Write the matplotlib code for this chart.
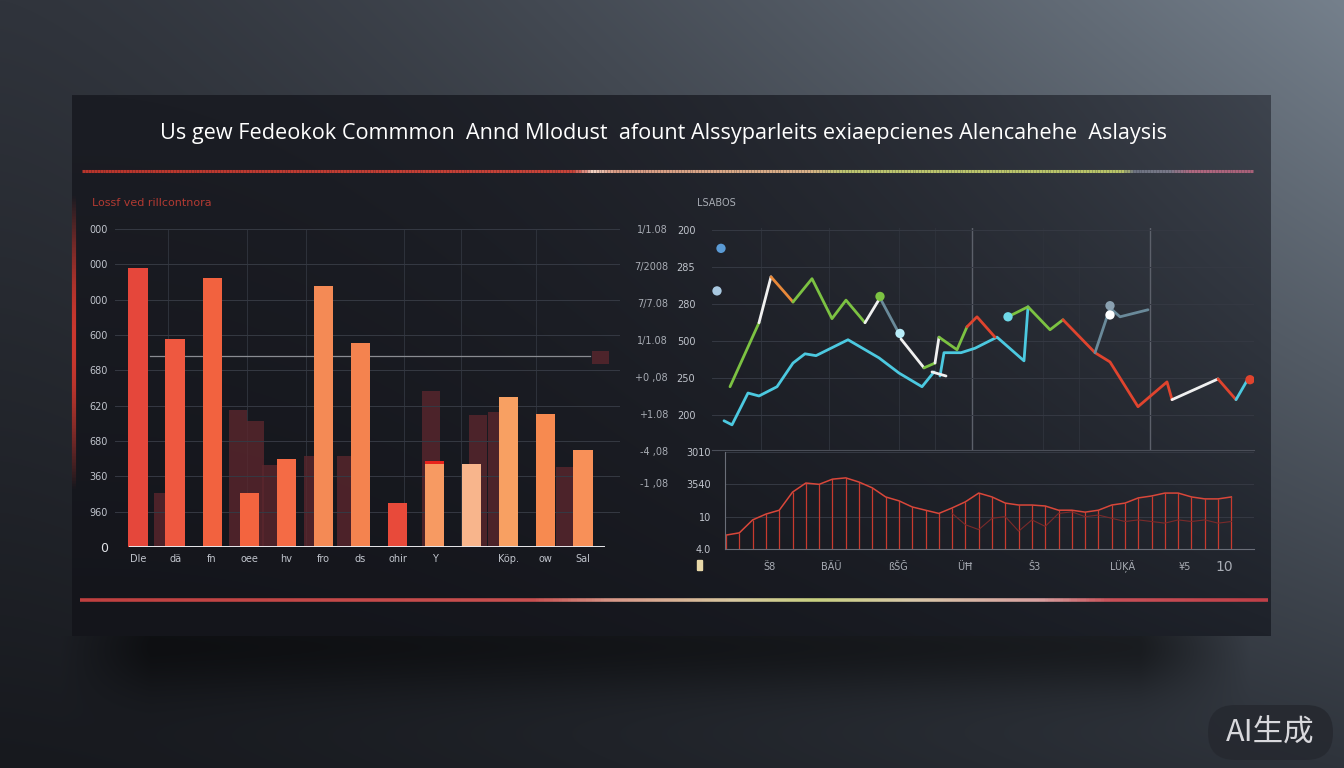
import numpy as np
import matplotlib.pyplot as plt
from matplotlib.collections import LineCollection
from matplotlib.colors import LinearSegmentedColormap, to_rgb
from matplotlib.patches import FancyBboxPatch

W, H = 1344, 768

# ---- left bar chart data ----
bar_labels = ["Dle", "dä", "fn", "oee", "hv", "fro", "ds", "ohir", "Y", "", "Köp.", "ow", "Sal"]
bar_values = [790, 590, 762, 153, 250, 740, 578, 125, 238, 235, 425, 377, 275]
ghost_pos = [0.66, 2.7, 3.17, 3.58, 4.72, 5.62, 7.9, 9.18, 9.68, 11.52]
ghost_values = [153, 388, 357, 232, 258, 258, 442, 374, 382, 226]
target_value = 540
left_ytick_labels = ["0", "960", "360", "680", "620", "680", "600", "000", "000", "000"]

# ---- right upper line chart data ----
cyan_a_x = [1.2, 2.0, 3.6, 4.7, 6.5, 8.1, 9.3, 10.4, 13.6, 16.7, 18.7, 21.0, 22.2]
cyan_a_y = [-0.16, -0.27, 0.59, 0.51, 0.76, 1.4, 1.65, 1.6, 2.03, 1.54, 1.13, 0.76, 1.16]
cyan_b_x = [22.8, 23.2, 24.9, 26.3, 28.5, 31.2, 31.6]
cyan_b_y = [1.05, 1.68, 1.68, 1.8, 2.1, 1.46, 2.92]
green_a_x = [1.8, 4.7]
green_a_y = [0.76, 2.49]
white_a_x = [4.7, 5.9]
white_a_y = [2.49, 3.73]
orange_x = [5.9, 7.3, 8.1]
orange_y = [3.73, 3.3, 3.05]
green_b_x = [8.1, 10.0, 12.0, 13.4, 15.3]
green_b_y = [3.05, 3.68, 2.6, 3.1, 2.49]
white_b_x = [15.3, 16.8]
white_b_y = [2.49, 3.16]
gray_a_x = [16.8, 18.7]
gray_a_y = [3.16, 2.2]
white_c_x = [18.9, 21.2]
white_c_y = [2.05, 1.27]
green_c_x = [21.2, 22.3]
green_c_y = [1.27, 1.4]
white_d_x = [22.3, 22.7]
white_d_y = [1.4, 2.1]
green_d_x = [22.7, 24.5, 25.5]
green_d_y = [2.1, 1.76, 2.38]
red_a_x = [25.5, 26.5, 28.3]
red_a_y = [2.38, 2.65, 2.1]
white_e_x = [22.0, 23.4]
white_e_y = [1.16, 1.05]
green_e_x = [29.6, 31.6, 33.8, 35.1]
green_e_y = [2.65, 2.92, 2.3, 2.57]
red_b_x = [35.1, 38.3, 39.8, 42.6, 45.5, 46.0]
red_b_y = [2.57, 1.68, 1.43, 0.22, 0.89, 0.41]
white_f_x = [46.0, 50.6]
white_f_y = [0.41, 0.97]
red_c_x = [50.6, 52.4]
red_c_y = [0.97, 0.41]
cyan_c_x = [52.4, 53.6]
cyan_c_y = [0.41, 0.97]
gray_b_x = [38.3, 39.8, 40.8, 43.6]
gray_b_y = [1.68, 2.89, 2.65, 2.84]
dot_x = [0.9, 0.5, 18.8, 16.8, 29.6, 39.8, 39.8, 53.8]
dot_y = [4.5, 3.35, 2.2, 3.2, 2.65, 2.95, 2.7, 0.95]
dot_colors = ["#5b9bd5", "#a8c8e0", "#b8ecf8", "#7cc242", "#6fd8e8", "#8aa0b0", "#ffffff", "#e0442e"]
upper_tick_labels = ["200", "250", "500", "280", "285", "200"]
upper_side_labels = ["+1.08", "+0 ,08", "1/1.08", "7/7.08", "7/2008", "1/1.08"]

# ---- right lower stem chart data ----
lower_values = [0.43, 0.50, 0.9, 1.08, 1.2, 1.76, 2.04, 2.0, 2.16, 2.2, 2.07, 1.89, 1.61,
                1.49, 1.3, 1.2, 1.1, 1.27, 1.46, 1.73, 1.61, 1.42, 1.36, 1.36, 1.33, 1.2,
                1.2, 1.14, 1.2, 1.36, 1.42, 1.58, 1.64, 1.73, 1.73, 1.61, 1.55, 1.55, 1.61]
lower_shadow = [1.1, 0.75, 0.6, 0.95, 1.0, 0.55, 0.9, 0.7, 1.1, 1.15, 1.0, 1.05, 0.95,
                0.85, 0.9, 0.85, 0.8, 0.9, 0.85, 0.9, 0.8, 0.85]
lower_tick_labels = ["4.0", "10", "3540", "3010"]
lower_side_labels = ["-1 ,08", "-4 ,08"]
lower_x_labels = ["Ṥ8", "BÄÜ", "ßŠĞ", "ÜĦ", "Ŝ3", "LÜĶÄ", "¥5", "10"]
lower_x_pos = [3.3, 7.9, 12.9, 18.0, 23.2, 29.8, 34.5, 37.5]


def fx(px):
    return px / W


def fy(py):
    return 1 - py / H


def ax_rect(x0, y0, x1, y1):
    return [fx(x0), fy(y1), (x1 - x0) / W, (y1 - y0) / H]


def bilinear(s, t, tl, tr, bl, br):
    tl, tr, bl, br = [np.array(to_rgb(c)) for c in (tl, tr, bl, br)]
    s = s[..., None]
    t = t[..., None]
    return (1 - t) * ((1 - s) * tl + s * tr) + t * ((1 - s) * bl + s * br)


fig = plt.figure(figsize=(W / 100, H / 100), dpi=100)

# background + panel painted as one image
yy, xx = np.mgrid[0:H, 0:W]
img = bilinear((xx / W) ** 1.4, yy / H, "#30343c", "#75808c", "#17191e", "#2e333b")
px0, px1, py0, py1 = 72, 1270, 95, 635
inside = (xx >= px0) & (xx <= px1) & (yy >= py0) & (yy <= py1)
ps = (xx - px0) / (px1 - px0)
pt = (yy - py0) / (py1 - py0)
panel = bilinear(np.clip(ps, 0, 1) ** 2.2, np.clip(pt, 0, 1), "#1b1d24", "#3e444e", "#14151b", "#1e222a")
img[inside] = panel[inside]
# soft shadow under the panel
shadow = np.exp(-((yy - 645) / 50.0) ** 2) * (yy > py1) * np.clip((xx - 60) / 90, 0, 1) * np.clip((1250 - xx) / 110, 0, 1)
img = img * (1 - 0.5 * shadow[..., None])
bg = fig.add_axes([0, 0, 1, 1])
bg.imshow(img, extent=(0, W, H, 0), aspect="auto", interpolation="bilinear")
bg.set_xlim(0, W)
bg.set_ylim(H, 0)
bg.axis("off")


def gradient_line(ax, x0, x1, y, stops, lw):
    xs = np.linspace(x0, x1, 400)
    pts = np.array([xs, np.full_like(xs, y)]).T.reshape(-1, 1, 2)
    segs = np.concatenate([pts[:-1], pts[1:]], axis=1)
    cmap = LinearSegmentedColormap.from_list("g", stops)
    lc = LineCollection(segs, cmap=cmap, linewidths=lw)
    lc.set_array(np.linspace(0, 1, len(segs)))
    ax.add_collection(lc)


gradient_line(bg, 82, 1253, 171, [(0, "#b8352c"), (0.42, "#c8443a"), (0.435, "#f0d0c0"),
                                  (0.455, "#d89a84"), (0.62, "#d8b088"), (0.65, "#bcc470"),
                                  (0.89, "#b8c468"), (0.9, "#6c7280"), (0.93, "#787888"),
                                  (0.95, "#b06880"), (1, "#a86078")], 2.2)
gradient_line(bg, 80, 1268, 600, [(0, "#c04040"), (0.38, "#c85050"), (0.45, "#d89a8a"),
                                  (0.55, "#d8c8a0"), (0.62, "#c8d080"), (0.7, "#d8c8a8"),
                                  (0.81, "#d8a0a0"), (0.87, "#c85058"), (1, "#c04048")], 2.6)
# red glow on the left edge of the panel
ys = np.linspace(195, 490, 200)
pts = np.array([np.full_like(ys, 74), ys]).T.reshape(-1, 1, 2)
alphas = np.clip(np.sin(np.linspace(0, np.pi, len(ys) - 1)) * 0.9, 0, 1)
lc = LineCollection(np.concatenate([pts[:-1], pts[1:]], axis=1), linewidths=3,
                    colors=[(0.88, 0.23, 0.19, a) for a in alphas])
bg.add_collection(lc)

fig.text(fx(664), fy(133), "Us gew Fedeokok Commmon  Annd Mlodust  afount Alssyparleits exiaepcienes Alencahehe  Aslaysis",
         ha="center", va="center", color="white", fontsize=15.6, family="Open Sans")
fig.text(fx(92), fy(203), "Lossf ved rillcontnora", ha="left", va="center", color="#b23a32", fontsize=8)
fig.text(fx(697), fy(203), "LSABOS", ha="left", va="center", color="#a8acb4", fontsize=7)

# ---- left bar chart ----
ax1 = fig.add_axes(ax_rect(115, 229, 620, 547))
ax1.set_facecolor("none")
xs = np.arange(len(bar_values))
ax1.bar(ghost_pos, ghost_values, width=0.48, color="#5a262d", alpha=0.8, zorder=1)
ax1.bar(12.47, 37, bottom=518, width=0.46, color="#5a262d", alpha=0.8, zorder=1)
bar_colors = ["#e5473b", "#ee5840", "#f2623f", "#f3643f", "#f46b45", "#f48a55", "#f4834f",
              "#e84a3a", "#f79a62", "#f8b58c", "#f8a062", "#f78a50", "#f89058"]
ax1.bar(xs, bar_values, width=0.52, color=bar_colors, zorder=3)
ax1.bar(xs[8], 8, bottom=bar_values[8] - 4, width=0.52, color="#e8231c", zorder=4)
ax1.axhline(target_value, xmin=0.07, xmax=0.94, color="#8a8c92", lw=0.9, zorder=2)
ax1.axhline(0, xmin=0.03, xmax=0.968, color="#e8e8ec", lw=1.4, zorder=5)
ax1.set_xlim(-0.62, 13.0)
ax1.set_ylim(0, 900)
ax1.set_yticks(np.arange(0, 1000, 100))
ax1.set_yticklabels(left_ytick_labels)
ax1.set_xticks(xs)
ax1.set_xticklabels(bar_labels)
ax1.tick_params(length=0, colors="#c0c4cc", labelsize=7, pad=5)
ax1.get_yticklabels()[0].set_fontsize(9)
ax1.get_yticklabels()[0].set_color("#e0e2e6")
ax1.grid(axis="y", color="#353943", lw=0.7, zorder=0)
for gx in [0.81, 2.94, 4.53, 7.17, 8.7, 10.73]:
    ax1.axvline(gx, color="#2e323b", lw=0.7, zorder=0)
for sp in ax1.spines.values():
    sp.set_visible(False)

# ---- right upper line chart ----
ax2 = fig.add_axes(ax_rect(712, 228, 1254, 450))
ax2.set_facecolor("none")
ax2.set_xlim(0, 54.2)
ax2.set_ylim(-0.95, 5.05)
ax2.set_yticks(range(6))
ax2.set_yticklabels(upper_tick_labels)
ax2.set_xticks([])
ax2.tick_params(length=0, colors="#c0c4cc", labelsize=7, pad=12)
ax2.grid(axis="y", color="#353943", lw=0.7)
for gx in [4.9, 11.7, 18.7, 22.3, 33.1, 36.7]:
    ax2.axvline(gx, color="#2e323b", lw=0.7, zorder=0)
for gx in [26.0, 43.8]:
    ax2.axvline(gx, color="#5c606a", lw=1.0, zorder=0)
for sp in ["top", "left", "right"]:
    ax2.spines[sp].set_visible(False)
ax2.spines["bottom"].set_color("#4a4e58")
for i, lab in enumerate(upper_side_labels):
    ax2.text(-44 / 542, i, lab, transform=ax2.get_yaxis_transform(), ha="right", va="center",
             color="#a8acb4", fontsize=7)

segments = [
    (cyan_a_x, cyan_a_y, "#4cc9e0"), (cyan_b_x, cyan_b_y, "#4cc9e0"),
    (green_a_x, green_a_y, "#7cc242"), (white_a_x, white_a_y, "#f0f0f0"),
    (orange_x, orange_y, "#e8893a"), (green_b_x, green_b_y, "#7cc242"),
    (white_b_x, white_b_y, "#f0f0f0"), (gray_a_x, gray_a_y, "#6a8a9a"),
    (white_c_x, white_c_y, "#f0f0f0"), (green_c_x, green_c_y, "#7cc242"),
    (white_d_x, white_d_y, "#f0f0f0"), (green_d_x, green_d_y, "#7cc242"),
    (red_a_x, red_a_y, "#e0442e"), (white_e_x, white_e_y, "#f0f0f0"),
    (green_e_x, green_e_y, "#7cc242"), (red_b_x, red_b_y, "#e0442e"),
    (white_f_x, white_f_y, "#f0f0f0"), (red_c_x, red_c_y, "#e0442e"),
    (cyan_c_x, cyan_c_y, "#4cc9e0"), (gray_b_x, gray_b_y, "#6a8a9a"),
]
for sx, sy, c in segments:
    ax2.plot(sx, sy, color=c, lw=2.0, solid_capstyle="round", zorder=3)
ax2.scatter(dot_x, dot_y, s=45, c=dot_colors, zorder=4, edgecolors="none")

# ---- right lower stem chart ----
ax3 = fig.add_axes(ax_rect(725, 452, 1254, 549))
ax3.set_facecolor("none")
lx = np.arange(len(lower_values))
ax3.vlines(lx, 0, lower_values, color="#c83a2e", lw=0.9)
ax3.plot(lx[17:], lower_shadow, color="#7a2a2a", lw=0.8)
ax3.plot(lx, lower_values, color="#d9473a", lw=1.1)
ax3.set_xlim(-0.08, 39.7)
ax3.set_ylim(0, 3)
ax3.set_yticks(range(4))
ax3.set_yticklabels(lower_tick_labels)
ax3.set_xticks([])
ax3.tick_params(length=0, colors="#c0c4cc", labelsize=7, pad=10)
ax3.grid(axis="y", color="#353943", lw=0.7)
for sp in ["top", "right"]:
    ax3.spines[sp].set_visible(False)
ax3.spines["left"].set_color("#6a6e78")
ax3.spines["bottom"].set_color("#6a6e78")
for i, lab in enumerate(lower_side_labels):
    ax3.text(-57 / 529, i + 2, lab, transform=ax3.get_yaxis_transform(), ha="right", va="center",
             color="#a8acb4", fontsize=7)
for pos, lab in zip(lower_x_pos, lower_x_labels):
    ax3.text(pos, -0.56, lab, ha="center", va="center", color="#a8acb4",
             fontsize=10 if lab == "10" else 7)
bg.add_patch(FancyBboxPatch((698, 561), 4, 9, boxstyle="round,pad=0.5", color="#e8d8a8"))

# ---- badge ----
bg.add_patch(FancyBboxPatch((1208, 705), 125, 55, boxstyle="round,pad=0,rounding_size=27",
                            facecolor="#262930", edgecolor="none", alpha=0.9))
bg.text(1270, 733, "AI生成", ha="center", va="center", color="#d8d8dc", fontsize=22,
        family=["Noto Sans CJK SC", "DejaVu Sans"])

fig.savefig("out.png", dpi=100)
